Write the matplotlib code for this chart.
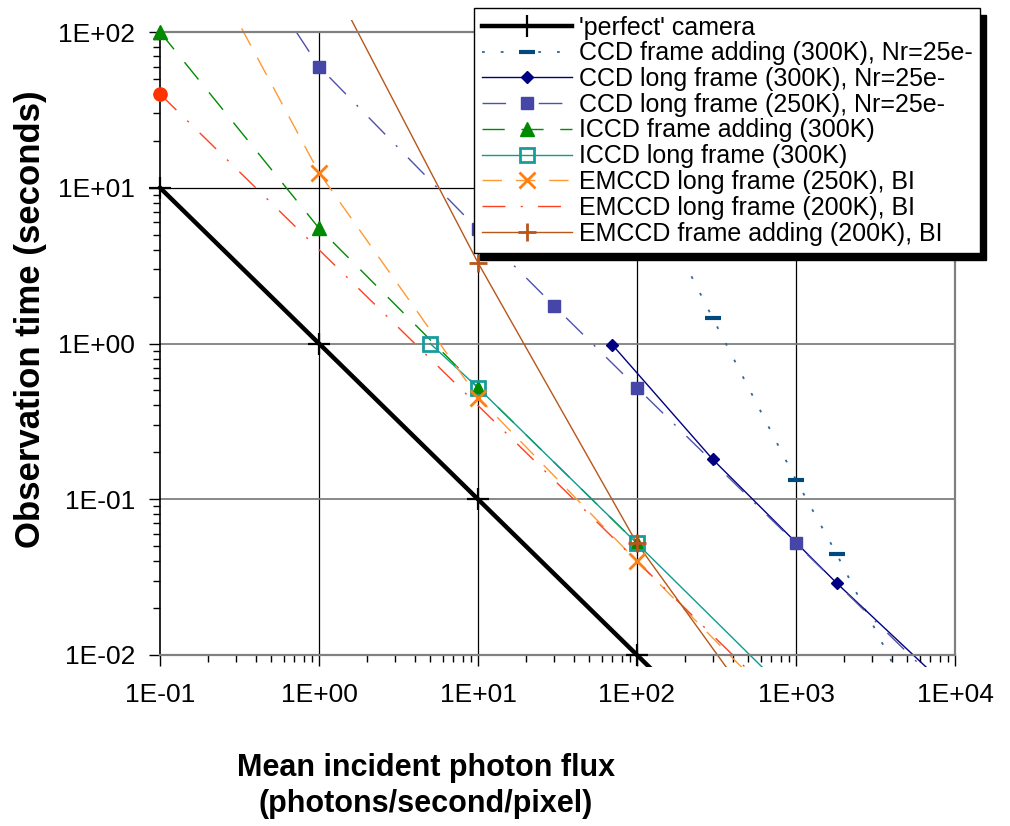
import numpy as np
import matplotlib.pyplot as plt
from matplotlib.lines import Line2D
from matplotlib.patches import Rectangle
from matplotlib.ticker import FixedLocator, FuncFormatter, LogLocator, NullFormatter
from matplotlib.transforms import Bbox, TransformedBbox

plt.rcParams['font.family'] = ['Liberation Sans', 'DejaVu Sans']
plt.rcParams['lines.scale_dashes'] = False

# values: x = photons/s/pixel, y = observation time (s)
# points past the axis limits only set where a line leaves the plot
perfect_x = [0.1, 1, 10, 100, 1000]
perfect_y = [10, 1, 0.1, 0.01, 0.001]
perfect_marks = [0, 1, 2, 3]

ccd_add_x = [220, 300, 1000, 1800, 5000]
ccd_add_y = [2.7, 1.45, 0.133, 0.0446, 0.0058]
ccd_add_marks = [1, 2, 3]

ccd300_x = [70, 300, 1800, 10000]
ccd300_y = [0.98, 0.18, 0.029, 0.0056]
ccd300_marks = [0, 1, 2]

ccd250_x = [0.72, 1, 10, 30, 100, 1000, 10000]
ccd250_y = [100, 60, 5.4, 1.75, 0.52, 0.052, 0.0052]
ccd250_marks = [1, 2, 3, 4, 5]

iccd_add_x = [0.1, 1, 10, 100]
iccd_add_y = [100, 5.5, 0.52, 0.052]
iccd_add_marks = [0, 1, 2, 3]

iccd_long_x = [5, 10, 100, 1000]
iccd_long_y = [1.0, 0.52, 0.052, 0.0051]
iccd_long_marks = [0, 1, 2]

em250_x = [0.1, 1, 10, 100, 1000]
em250_y = [1000, 12.5, 0.45, 0.04, 0.0037]
em250_marks = [1, 2, 3]

em200_x = [0.1, 1, 10, 100, 1000]
em200_y = [40, 4, 0.4, 0.04, 0.004]
em200_marks = []
em200_dot_x = [0.1]
em200_dot_y = [40]

em_add_x = [1, 10, 100, 1000]
em_add_y = [300, 3.3, 0.052, 0.002]
em_add_marks = [1, 2]

labels = ["'perfect' camera",
          "CCD frame adding (300K), Nr=25e-",
          "CCD long frame (300K), Nr=25e-",
          "CCD long frame (250K), Nr=25e-",
          "ICCD frame adding (300K)",
          "ICCD long frame (300K)",
          "EMCCD long frame (250K), BI",
          "EMCCD long frame (200K), BI",
          "EMCCD frame adding (200K), BI"]

W, H = 1010, 826
fig = plt.figure(figsize=(W / 100, H / 100), dpi=100)
ax = fig.add_axes([160 / W, 1 - 655 / H, 795 / W, 623 / H])
ax.set_xscale('log')
ax.set_yscale('log')
ax.set_xlim(0.1, 1e4)
ax.set_ylim(0.01, 100)

# lines run a little past the plot area, like the Excel original
clip = TransformedBbox(Bbox([[-0.02, -0.02], [1.0, 1.02]]), ax.transAxes)


def series(x, y, marks, line_kw, mark_kw):
    ln, = ax.plot(x, y, marker='none', **line_kw)
    ln.set_clip_box(clip)
    if marks:
        ax.plot(np.take(x, marks), np.take(y, marks), ls='none',
                clip_on=False, zorder=3, **mark_kw)
    return Line2D([], [], **line_kw, **mark_kw)


handles = []
handles.append(series(perfect_x, perfect_y, perfect_marks,
                      dict(color='black', lw=3.2),
                      dict(marker='+', ms=16, mew=1.6, mec='black')))
handles.append(series(ccd_add_x, ccd_add_y, ccd_add_marks,
                      dict(color='#336699', lw=1.3, dashes=(2, 11.5)),
                      dict(marker='_', ms=11, mew=3, mec='#004A7F')))
handles.append(series(ccd300_x, ccd300_y, ccd300_marks,
                      dict(color='#000080', lw=1.0),
                      dict(marker='D', ms=6.5, mfc='#000080', mec='#000080')))
handles.append(series(ccd250_x, ccd250_y, ccd250_marks,
                      dict(color='#4F4FB0', lw=1.0, dashes=(17, 11, 1.5, 11)),
                      dict(marker='s', ms=9, mfc='#4646A8', mec='#4646A8')))
handles.append(series(iccd_add_x, iccd_add_y, iccd_add_marks,
                      dict(color='#008A00', lw=1.0, dashes=(16, 12)),
                      dict(marker='^', ms=10.5, mfc='#008A00', mec='#008A00')))
handles.append(series(iccd_long_x, iccd_long_y, iccd_long_marks,
                      dict(color='#0E9C90', lw=1.0),
                      dict(marker='s', ms=10, mfc='none', mec='#179C9C', mew=2)))
handles.append(series(em250_x, em250_y, em250_marks,
                      dict(color='#FF9933', lw=1.0, dashes=(14, 10)),
                      dict(marker='x', ms=11, mew=2, mec='#FF8010')))
handles.append(series(em200_x, em200_y, em200_marks,
                      dict(color='#FF4020', lw=1.0, dashes=(16.5, 11, 1.5, 11)),
                      dict()))
ax.plot(em200_dot_x, em200_dot_y, ls='none', marker='o', ms=9.5,
        color='#FF3300', clip_on=False, zorder=3)
handles.append(series(em_add_x, em_add_y, em_add_marks,
                      dict(color='#B8561B', lw=1.0),
                      dict(marker='+', ms=13, mew=2, mec='#B8561B')))

# grid: black verticals, grey horizontals (the 1E+01 one reads black)
for gx in [1, 10, 100, 1000]:
    ax.axvline(gx, color='black', lw=0.9, zorder=1)
for gy, gc, gw in [(0.1, '#7F7F7F', 1.3), (1, '#7F7F7F', 1.3), (10, 'black', 0.9)]:
    ax.axhline(gy, color=gc, lw=gw, zorder=1)

fmt = FuncFormatter(lambda v, p: format(v, '.0E'))
ax.xaxis.set_major_locator(FixedLocator([0.1, 1, 10, 100, 1000, 10000]))
ax.yaxis.set_major_locator(FixedLocator([0.01, 0.1, 1, 10, 100]))
ax.xaxis.set_minor_locator(LogLocator(base=10, subs=np.arange(2, 10), numticks=20))
ax.yaxis.set_minor_locator(LogLocator(base=10, subs=np.arange(2, 10), numticks=20))
ax.xaxis.set_major_formatter(fmt)
ax.yaxis.set_major_formatter(fmt)
ax.xaxis.set_minor_formatter(NullFormatter())
ax.yaxis.set_minor_formatter(NullFormatter())
ax.tick_params(which='major', direction='out', length=8, width=1, labelsize=19)
ax.tick_params(which='minor', direction='out', length=5, width=1)
ax.tick_params(axis='x', which='major', pad=12)
ax.tick_params(axis='y', which='major', pad=10)

ax.spines['left'].set_color('black')
ax.spines['left'].set_linewidth(1.2)
for s in ['bottom', 'top', 'right']:
    ax.spines[s].set_color('#808080')
    ax.spines[s].set_linewidth(1.6)

fig.text(31 / W, 1 - 319 / H, 'Observation time (seconds)', rotation=90,
         ha='center', va='center', fontsize=25, fontweight='bold')
fig.text(426 / W, 1 - 786 / H, 'Mean incident photon flux\n(photons/second/pixel)',
         ha='center', va='center', fontsize=22, fontweight='bold',
         linespacing=1.3)

leg = fig.legend(handles, labels, loc='upper left',
                 bbox_to_anchor=(474 / W, 1 - 8 / H),
                 bbox_transform=fig.transFigure, borderaxespad=0,
                 fontsize=18, fancybox=False, edgecolor='black',
                 framealpha=1, handlelength=3.6, handletextpad=0.3,
                 labelspacing=0.07, borderpad=0.3, numpoints=1)
leg.get_frame().set_linewidth(1.0)
leg.set_zorder(5)

# hard black drop shadow behind the legend
fig.canvas.draw()
bb = leg.get_window_extent().transformed(fig.transFigure.inverted())
shadow = Rectangle((bb.x0 + 6 / W, bb.y0 - 7 / H), bb.width, bb.height,
                   transform=fig.transFigure, color='black', zorder=4)
fig.add_artist(shadow)

fig.savefig('out.png', dpi=100)
